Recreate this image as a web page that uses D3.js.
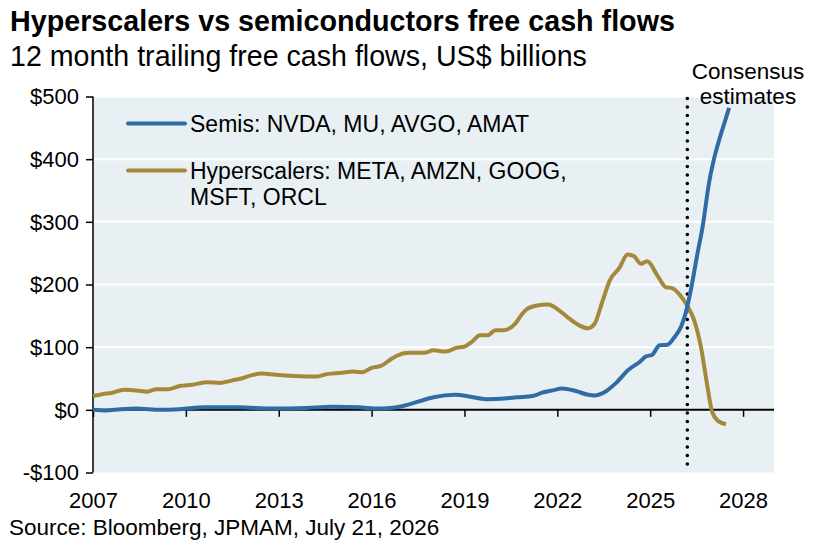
<!DOCTYPE html>
<html>
<head>
<meta charset="utf-8">
<script src="https://cdn.jsdelivr.net/npm/d3@7"></script>
<style>
  html, body { margin: 0; padding: 0; background: #fff; }
  svg { display: block; font-family: "Liberation Sans", Arial, Helvetica, sans-serif; }
</style>
</head>
<body>
<svg id="chart" width="818" height="546"></svg>
<script>
// ---- Data ----
const semisYears  = [2007.0, 2007.4, 2007.9, 2008.4, 2009.2, 2009.8, 2010.6, 2011.7, 2012.8, 2013.9, 2014.7, 2015.6, 2016.2, 2016.6, 2016.9, 2017.5, 2018.0, 2018.7, 2019.2, 2019.7, 2020.3, 2020.7, 2021.2, 2021.55, 2021.85, 2022.15, 2022.6, 2023.0, 2023.2, 2023.55, 2023.9, 2024.3, 2024.65, 2024.86, 2025.07, 2025.3, 2025.56, 2025.77, 2026.0, 2026.15, 2026.3, 2026.53, 2026.7, 2026.9, 2027.05, 2027.23, 2027.4, 2027.55];
const semisValues = [0, -1, 1, 2, 0, 1, 4, 4, 2, 3, 5, 4, 2, 3, 5, 13, 20, 24, 21, 17, 18, 20, 22, 28, 31, 34, 30, 24, 23, 29, 43, 64, 76, 85, 88, 103, 104, 115, 133, 155, 188, 250, 294, 362, 398, 431, 458, 482];

const hyperYears  = [2007.0, 2007.3, 2007.6, 2008.0, 2008.4, 2008.75, 2009.05, 2009.45, 2009.8, 2010.2, 2010.7, 2011.1, 2011.5, 2011.8, 2012.1, 2012.45, 2012.9, 2013.5, 2014.2, 2014.55, 2015.05, 2015.4, 2015.7, 2016.0, 2016.3, 2016.6, 2016.8, 2017.2, 2017.7, 2018.0, 2018.4, 2018.75, 2019.0, 2019.25, 2019.5, 2019.75, 2020.0, 2020.25, 2020.65, 2020.85, 2021.0, 2021.3, 2021.7, 2022.1, 2022.4, 2022.7, 2022.98, 2023.2, 2023.45, 2023.7, 2024.0, 2024.27, 2024.48, 2024.7, 2024.9, 2025.25, 2025.5, 2025.72, 2026.0, 2026.2, 2026.42, 2026.64, 2026.85, 2027.0, 2027.2, 2027.45];
const hyperValues = [22, 25, 27, 32, 31, 29, 33, 33, 38, 40, 44, 43, 47, 50, 55, 58, 56, 54, 53, 57, 59, 61, 60, 67, 70, 80, 86, 91, 91, 95, 93, 99, 101, 109, 119, 119, 127, 127, 138, 152, 160, 166, 168, 157, 145, 135, 130, 137, 172, 207, 226, 248, 245, 233, 237, 213, 196, 194, 181, 166, 143, 100, 37, -3, -18, -23];

const yTicks = [-100, 0, 100, 200, 300, 400, 500];
const xTicks = [2007, 2010, 2013, 2016, 2019, 2022, 2025, 2028];
const consensusYear = 2026.2;

const seriesNames = ["Semis: NVDA, MU, AVGO, AMAT", "Hyperscalers: META, AMZN, GOOG,", "MSFT, ORCL"];
const titleText = "Hyperscalers vs semiconductors free cash flows";
const subtitleText = "12 month trailing free cash flows, US$ billions";
const sourceText = "Source: Bloomberg, JPMAM, July 21, 2026";

// ---- Layout ----
const svg = d3.select("#chart");
const plot = { left: 93, right: 774, top: 96.5, bottom: 472.5 };
const x = d3.scaleLinear().domain([2007, 2029]).range([plot.left, plot.right]);
const y = d3.scaleLinear().domain([-100, 500]).range([plot.bottom, plot.top]);

const BLUE = "#2f6ba5";
const GOLD = "#a6883b";

// background
svg.append("rect")
  .attr("x", plot.left).attr("y", plot.top)
  .attr("width", plot.right - plot.left).attr("height", plot.bottom - plot.top)
  .attr("fill", "#e9f0f4");

// gridlines
svg.append("g").selectAll("line").data(yTicks.filter(d => d !== 0 && d !== -100))
  .join("line")
  .attr("x1", plot.left).attr("x2", plot.right)
  .attr("y1", d => y(d)).attr("y2", d => y(d))
  .attr("stroke", "#ffffff").attr("stroke-width", 2);

// y axis
const yAxis = svg.append("g")
  .attr("transform", `translate(${plot.left},0)`)
  .call(d3.axisLeft(y).tickValues(yTicks).tickSize(7).tickPadding(7)
    .tickFormat(d => (d < 0 ? "-$" : "$") + Math.abs(d)));
yAxis.select(".domain").attr("stroke", "#000").attr("stroke-width", 1.5)
  .attr("d", `M0,${plot.top}V${plot.bottom}`);
yAxis.selectAll(".tick line").attr("stroke", "#000").attr("stroke-width", 1.5);
yAxis.selectAll(".tick text").attr("font-size", 22).attr("fill", "#000")
  .attr("font-family", "'Liberation Sans', Arial, sans-serif").attr("dy", "0.34em");

// x axis on zero line
const xAxis = svg.append("g")
  .attr("transform", `translate(0,${y(0)})`)
  .call(d3.axisBottom(x).tickValues(xTicks).tickSize(7).tickFormat(d3.format("d")));
xAxis.select(".domain").attr("stroke", "#000").attr("stroke-width", 2)
  .attr("d", `M${plot.left},0H${plot.right}`);
xAxis.selectAll(".tick line").attr("stroke", "#000").attr("stroke-width", 1.5);
xAxis.selectAll(".tick text").attr("font-size", 22).attr("fill", "#000")
  .attr("font-family", "'Liberation Sans', Arial, sans-serif")
  .attr("y", 0).attr("dy", 0)
  .attr("transform", `translate(0,${508 - y(0)})`);

// consensus dotted line
svg.append("line")
  .attr("x1", x(consensusYear)).attr("x2", x(consensusYear))
  .attr("y1", plot.top + 2).attr("y2", plot.bottom)
  .attr("stroke", "#000").attr("stroke-width", 3.6)
  .attr("stroke-linecap", "round").attr("stroke-dasharray", "0 8.5");

// lines
const line = d3.line().x(d => x(d[0])).y(d => y(d[1])).curve(d3.curveMonotoneX);
const semis = d3.zip(semisYears, semisValues);
const hyper = d3.zip(hyperYears, hyperValues);

svg.append("path").datum(hyper).attr("d", line)
  .attr("fill", "none").attr("stroke", GOLD).attr("stroke-width", 4).attr("stroke-linejoin", "round");
svg.append("path").datum(semis).attr("d", line)
  .attr("fill", "none").attr("stroke", BLUE).attr("stroke-width", 4).attr("stroke-linejoin", "round");

// legend
const lg = svg.append("g").attr("font-size", 23).attr("fill", "#000");
lg.append("line").attr("x1", 128).attr("x2", 185).attr("y1", 123.5).attr("y2", 123.5)
  .attr("stroke", BLUE).attr("stroke-width", 4).attr("stroke-linecap", "round");
lg.append("text").attr("x", 190).attr("y", 131.5).text(seriesNames[0]);
lg.append("line").attr("x1", 128).attr("x2", 185).attr("y1", 170.5).attr("y2", 170.5)
  .attr("stroke", GOLD).attr("stroke-width", 4).attr("stroke-linecap", "round");
lg.append("text").attr("x", 190).attr("y", 179).text(seriesNames[1]);
lg.append("text").attr("x", 190).attr("y", 204.5).text(seriesNames[2]);

// consensus annotation
const ann = svg.append("g").attr("font-size", 22.5).attr("text-anchor", "middle").attr("fill", "#000");
ann.append("text").attr("x", 748).attr("y", 79).text("Consensus");
ann.append("text").attr("x", 748).attr("y", 104).text("estimates");

// titles
svg.append("text").attr("x", 10).attr("y", 31)
  .attr("font-size", 28.7).attr("font-weight", "bold").attr("fill", "#000").text(titleText);
svg.append("text").attr("x", 10).attr("y", 66)
  .attr("font-size", 28.6).attr("fill", "#000").text(subtitleText);

// source
svg.append("text").attr("x", 9).attr("y", 535)
  .attr("font-size", 22.5).attr("fill", "#000").text(sourceText);
</script>
</body>
</html>
